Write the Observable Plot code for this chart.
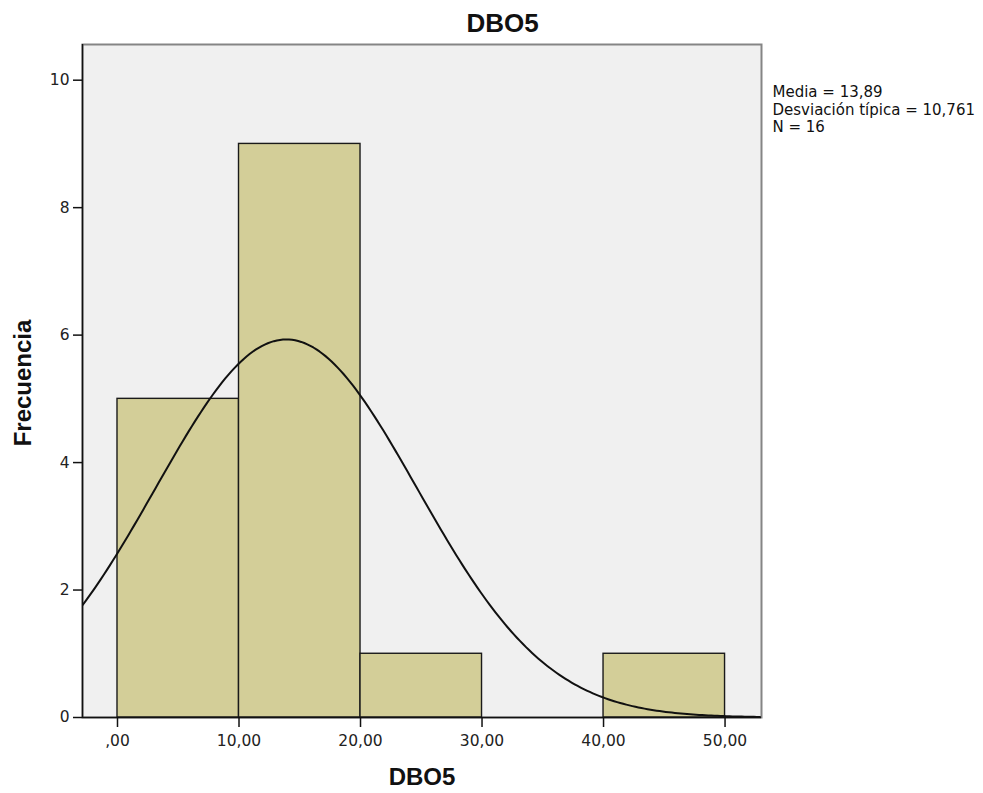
<!DOCTYPE html>
<html><head><meta charset="utf-8">
<script src="https://cdn.jsdelivr.net/npm/d3@7"></script>
<script src="https://cdn.jsdelivr.net/npm/@observablehq/plot@0.6"></script>
<style>body{margin:0;background:#fff;font-family:"Liberation Sans",Arial,sans-serif}</style>
</head><body><div id="chart"></div>
<script>
const binStart = [0, 10, 20, 30, 40];
const binEnd = [10, 20, 30, 40, 50];
const freq = [5, 9, 1, 0, 1];
const xTicks = [0, 10, 20, 30, 40, 50];
const yTicks = [0, 2, 4, 6, 8, 10];
const mean = 13.89, sd = 10.761, n = 16, binWidth = 10;
const statLines = ["Media = 13,89", "Desviación típica = 10,761", "N = 16"];

const bins = binStart.map((s, i) => ({x1: s, x2: binEnd[i], y: freq[i]})).filter(d => d.y > 0);
const xMin = -2.88, xMax = 53.0;
const curve = d3.range(xMin, xMax + 0.01, 0.25).map(x => ({
  x, y: n * binWidth * Math.exp(-0.5 * ((x - mean) / sd) ** 2) / (sd * Math.sqrt(2 * Math.PI))
}));
const fmt = v => (v === 0 ? "" : String(v)) + ",00";
const tickFont = "'DejaVu Sans', sans-serif";
const titleFont = "'Liberation Sans', Arial, sans-serif";

const chart = Plot.plot({
  width: 983, height: 793,
  marginLeft: 82, marginTop: 44, marginRight: 222, marginBottom: 76,
  style: {fontFamily: tickFont, fontSize: "15.5px", color: "#222", background: "#fff"},
  x: {domain: [xMin, xMax], label: null},
  y: {domain: [0, 10.56], label: null},
  marks: [
    Plot.frame({fill: "#f0f0f0", stroke: "#858585", strokeWidth: 2}),
    Plot.rectY(bins, {x1: "x1", x2: "x2", y: "y", fill: "#d3ce98", stroke: "#1a1a1a", strokeWidth: 1.4}),
    Plot.line(curve, {x: "x", y: "y", stroke: "#111", strokeWidth: 2, clip: true}),
    Plot.ruleY([0], {stroke: "#111", strokeWidth: 1.5}),
    Plot.ruleX([xMin], {stroke: "#111", strokeWidth: 1.5}),
    Plot.axisX({ticks: xTicks, tickFormat: fmt, tickSize: 10, tickPadding: 7, fontSize: 15.5, fill: "#222", stroke: "#111", strokeWidth: 1.5, label: null}),
    Plot.axisY({ticks: yTicks, tickSize: 9, tickPadding: 4, fontSize: 15.5, fill: "#222", stroke: "#111", strokeWidth: 1.5, label: null}),
    Plot.text(["DBO5"], {frameAnchor: "top", lineAnchor: "middle", dx: 80.5, dy: -20.5, fontFamily: titleFont, fontWeight: "bold", fontSize: 26, fill: "#111"}),
    Plot.text(["DBO5"], {frameAnchor: "bottom", lineAnchor: "middle", dy: 60, fontFamily: titleFont, fontWeight: "bold", fontSize: 24, fill: "#111"}),
    Plot.text(["Frecuencia"], {frameAnchor: "left", textAnchor: "middle", lineAnchor: "middle", dx: -59.5, dy: 2, rotate: -90, fontFamily: titleFont, fontWeight: "bold", fontSize: 24, fill: "#111"}),
    Plot.text([statLines.join("\n")], {frameAnchor: "top-right", lineAnchor: "top", dx: 11, dy: 40, textAnchor: "start", lineHeight: 1.17, fontSize: 15, fill: "#111"})
  ]
});
document.getElementById("chart").appendChild(chart);
</script></body></html>
